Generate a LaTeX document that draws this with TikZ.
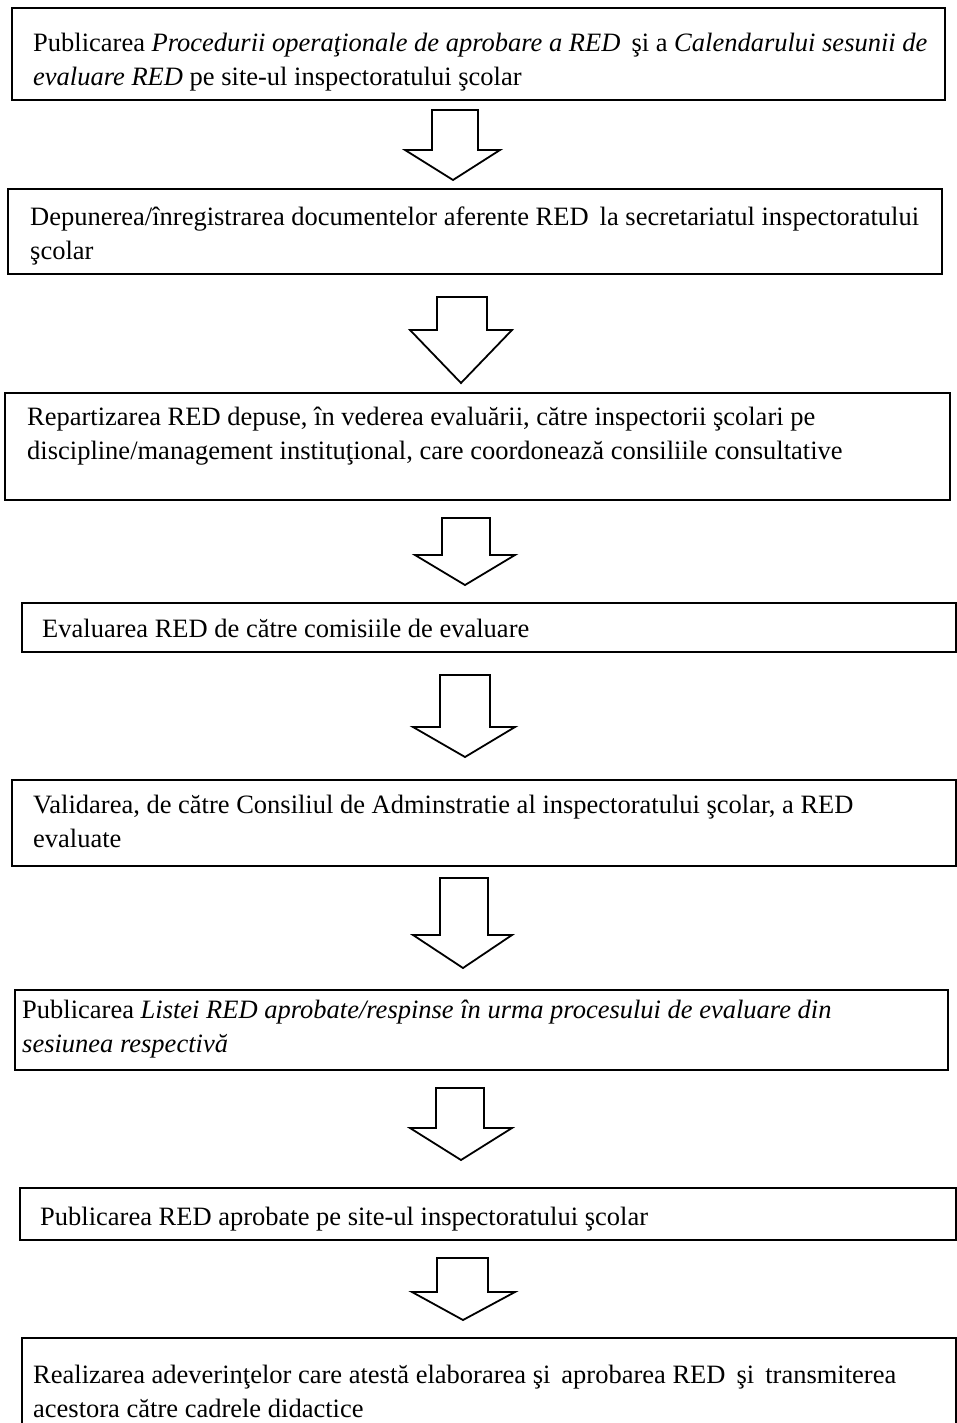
\documentclass[tikz,border=0pt]{standalone}
\usepackage{fontspec}
\setmainfont{Liberation Serif}
\begin{document}
\begin{tikzpicture}[x=1pt,y=-1pt,
  boxst/.style={draw=black,line width=1.8pt,inner sep=0pt},
  txt/.style={anchor=west,inner sep=0pt,font=\fontsize{26.5}{34}\selectfont,align=left},
  barrow/.style={draw=black,line width=1.8pt,fill=white,line join=miter}]
\useasboundingbox (0,0) rectangle (956,1423);
\fill[white] (0,0) rectangle (956,1423);
% boxes
\draw[boxst] (12,8) rectangle (945,100);
\node[txt] (t1) at (33,62) {Publicarea \textit{Procedurii operaţionale de aprobare a RED}\, şi a \textit{Calendarului sesunii de}\\\textit{evaluare RED} pe site-ul inspectoratului şcolar};
\draw[boxst] (8,189) rectangle (942,274);
\node[txt] (t2) at (30,236) {Depunerea/înregistrarea documentelor aferente RED\, la secretariatul inspectoratului\\şcolar};
\draw[boxst] (5,393) rectangle (950,500);
\node[txt] (t3) at (27,436) {Repartizarea RED depuse, în vederea evaluării, către inspectorii şcolari pe\\discipline/management instituţional, care coordonează consiliile consultative};
\draw[boxst] (22,603) rectangle (956,652);
\node[txt] (t4) at (42,628) {Evaluarea RED de către comisiile de evaluare};
\draw[boxst] (12,780) rectangle (956,866);
\node[txt] (t5) at (33,821) {Validarea, de către Consiliul de Adminstratie al inspectoratului şcolar, a RED\\evaluate};
\draw[boxst] (15,990) rectangle (948,1070);
\node[txt] (t6) at (22,1029) {Publicarea \textit{Listei RED aprobate/respinse în urma procesului de evaluare din}\\\textit{sesiunea respectivă}};
\draw[boxst] (20,1188) rectangle (956,1240);
\node[txt] (t7) at (40,1219) {Publicarea RED aprobate pe site-ul inspectoratului şcolar};
\draw[boxst] (22,1338) rectangle (956,1440);
\node[txt] (t8) at (33,1391) {Realizarea adeverinţelor care atestă elaborarea şi\, aprobarea RED\, şi\, transmiterea\\acestora către cadrele didactice};
% block arrows
\draw[barrow] (432,110) -- (478,110) -- (478,150) -- (500,150) -- (453,180) -- (405,150) -- (432,150) -- cycle;
\draw[barrow] (437,297) -- (487,297) -- (487,330) -- (512,330) -- (461,383) -- (410,330) -- (437,330) -- cycle;
\draw[barrow] (442,518) -- (490,518) -- (490,555) -- (515,555) -- (465,585) -- (415,555) -- (442,555) -- cycle;
\draw[barrow] (440,675) -- (490,675) -- (490,727) -- (515,727) -- (465,757) -- (413,727) -- (440,727) -- cycle;
\draw[barrow] (440,878) -- (488,878) -- (488,935) -- (512,935) -- (463,968) -- (413,935) -- (440,935) -- cycle;
\draw[barrow] (436,1088) -- (484,1088) -- (484,1128) -- (512,1128) -- (461,1160) -- (410,1128) -- (436,1128) -- cycle;
\draw[barrow] (437,1258) -- (488,1258) -- (488,1292) -- (515,1292) -- (463,1320) -- (412,1292) -- (437,1292) -- cycle;
\end{tikzpicture}
\end{document}
